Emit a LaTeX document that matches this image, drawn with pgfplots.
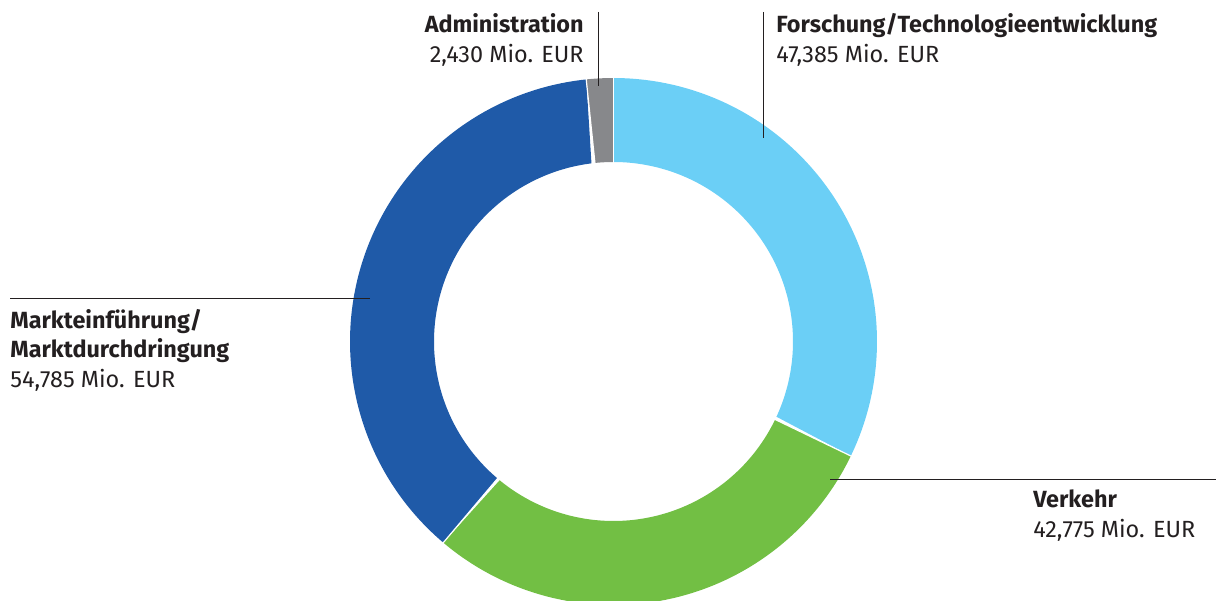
\documentclass[border=0pt]{standalone}
\usepackage{pgfplots}
\pgfplotsset{compat=1.18}
\usepackage{fontspec}
\setmainfont{Fira Sans}
\definecolor{cF}{HTML}{6BCFF6}
\definecolor{cV}{HTML}{72BF44}
\definecolor{cM}{HTML}{1F5AA8}
\definecolor{cA}{HTML}{87888B}
\definecolor{txt}{HTML}{231F20}
% values (Mio. EUR)
\def\vF{47.385}
\def\vV{42.775}
\def\vM{54.785}
\def\vA{2.430}
\def\cx{613.5}
\def\cy{258.5}
\def\Ro{263.5}
\def\Ri{179.5}
\newcommand{\seg}[3]{%
  \addplot[fill=#1, draw=none, domain=0:2, samples=241, variable=\t]
   ({\cx + ((\t<=1) ? \Ro : \Ri)*cos((\t<=1) ? (#2+(#3-#2)*\t) : (#3-(#3-#2)*(\t-1)))},
    {\cy + ((\t<=1) ? \Ro : \Ri)*sin((\t<=1) ? (#2+(#3-#2)*\t) : (#3-(#3-#2)*(\t-1)))});
}
\newcommand{\sep}[1]{%
  \addplot[white, line width=0.6pt, domain=170:275, samples=2, variable=\t]
   ({\cx + \t*cos(#1)}, {\cy + \t*sin(#1)});
}
\newcommand{\fs}{\fontsize{11.7}{14}\selectfont}
\begin{document}
\begin{tikzpicture}[x=0.5pt,y=0.5pt]
\useasboundingbox (0,0) rectangle (1216,600);
\pgfmathsetmacro{\tot}{\vF+\vV+\vM+\vA}
\pgfmathsetmacro{\aO}{90}
\pgfmathsetmacro{\aF}{\aO-360*(\vF/\tot)}
\pgfmathsetmacro{\aV}{\aF-360*(\vV/\tot)}
\pgfmathsetmacro{\aM}{\aV-360*(\vM/\tot)}
\pgfmathsetmacro{\aA}{\aM-360*(\vA/\tot)}
\begin{axis}[at={(0,0)}, anchor=south west, width=608pt, height=300pt,
  scale only axis, xmin=0, xmax=1216, ymin=0, ymax=600, hide axis, clip=true]
\seg{cF}{\aO}{\aF}
\seg{cV}{\aF}{\aV}
\seg{cM}{\aV}{\aM}
\seg{cA}{\aM}{\aA}
\sep{\aO}
\sep{\aF}
\sep{\aV}
\sep{\aM}
% leader lines
\addplot[txt, line width=0.5pt] coordinates {(598,588) (598,514)};
\addplot[txt, line width=0.5pt] coordinates {(763,588) (763,462)};
\addplot[txt, line width=0.5pt] coordinates {(10,301) (370,301)};
\addplot[txt, line width=0.5pt] coordinates {(830,120) (1216,120)};
\end{axis}
\begin{scope}[every node/.style={inner sep=0pt, text=txt, font=\fs}]
\node[anchor=base east, font=\fs\bfseries] at (584,567) {Administration};
\node[anchor=base east] at (584,537) {2,430 Mio. EUR};
\node[anchor=base west, font=\fs\bfseries] at (776,567) {Forschung/Technologieentwicklung};
\node[anchor=base west] at (776,537) {47,385 Mio. EUR};
\node[anchor=base west, font=\fs\bfseries] at (10,271) {Markteinführung/};
\node[anchor=base west, font=\fs\bfseries] at (10,242) {Marktdurchdringung};
\node[anchor=base west] at (10,212) {54,785 Mio. EUR};
\node[anchor=base west, font=\fs\bfseries] at (1033,92) {Verkehr};
\node[anchor=base west] at (1033,62) {42,775 Mio. EUR};
\end{scope}
\end{tikzpicture}
\end{document}
